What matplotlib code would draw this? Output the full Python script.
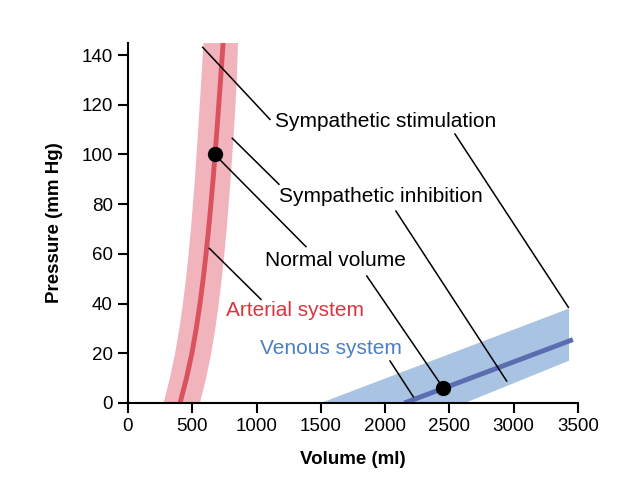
import matplotlib
matplotlib.use("Agg")
import matplotlib.pyplot as plt

plt.rcParams["font.family"] = ["Liberation Sans", "DejaVu Sans"]

# Arterial compliance curve (pressure in mm Hg, volume in ml)
art_p = [0, 10, 20, 30, 40, 50, 60, 70, 80, 90, 100, 110, 120, 130, 145]
art_mid = [405, 455, 497, 531, 560, 585, 607, 627, 645, 662, 677, 692, 706, 720, 740]
art_lo = [272, 321, 362, 395, 423, 447, 467, 485, 501, 516, 529, 542, 554, 566, 583]
art_hi = [555, 603, 643, 675, 702, 725, 745, 763, 779, 794, 807, 820, 832, 842, 852]

# Venous compliance
ven_vol = [2150, 3460]
ven_p = [0, 25.5]
ven_band_vol = [1500, 3430, 3430, 2620]
ven_band_p = [0, 38, 17, 0]

# Normal volume points
dots_vol = [677, 2450]
dots_p = [100, 6]

# Labels and their leader lines
labels = ["Sympathetic stimulation", "Sympathetic inhibition", "Normal volume",
          "Arterial system", "Venous system"]
label_xy = [(2007, 113.2), (1968, 83.0), (1614, 57.5), (1299, 37.4), (1575, 22.0)]
label_colors = ["black", "black", "black", "#d9363e", "#4c7ec2"]
leaders = [
    [(581, 143.1), (1104, 114.1)], [(2543, 108.2), (3425, 38.5)],
    [(811, 106.5), (1174, 88.0)], [(2084, 77.2), (2945, 8.85)],
    [(716, 97.8), (1384, 62.9)], [(1857, 51.1), (2427, 7.9)],
    [(633, 62.2), (1034, 41.7)],
    [(2038, 16.9), (2219, 2.5)],
]

xticks = [0, 500, 1000, 1500, 2000, 2500, 3000, 3500]
yticks = [0, 20, 40, 60, 80, 100, 120, 140]

fig = plt.figure(figsize=(6.28, 4.98), dpi=100)
ax = fig.add_axes([0.2038, 0.1908, 0.7166, 0.7237])

ax.fill_betweenx(art_p, art_lo, art_hi, color="#f1b3bc", lw=0)
ax.plot(art_mid, art_p, color="#d9525e", lw=3.5, solid_capstyle="butt")

ax.fill(ven_band_vol, ven_band_p, color="#a9c3e3", lw=0)
ax.plot(ven_vol, ven_p, color="#5a6db0", lw=3.5, solid_capstyle="butt")

for seg in leaders:
    ax.plot([seg[0][0], seg[1][0]], [seg[0][1], seg[1][1]], color="black", lw=1.1)

ax.plot(dots_vol, dots_p, "o", color="black", ms=10, zorder=5)

for txt, (x, y), c in zip(labels, label_xy, label_colors):
    ax.text(x, y, txt, color=c, fontsize=15, ha="center", va="center")

ax.set_xlim(0, 3500)
ax.set_ylim(0, 145)
ax.set_xticks(xticks)
ax.set_yticks(yticks)
ax.tick_params(labelsize=13.5, length=7.5, width=1.5, direction="out")
for s in ["top", "right"]:
    ax.spines[s].set_visible(False)
for s in ["left", "bottom"]:
    ax.spines[s].set_linewidth(1.5)

ax.set_xlabel("Volume (ml)", fontsize=13.5, fontweight="bold", labelpad=11)
ax.set_ylabel("Pressure (mm Hg)", fontsize=13.5, fontweight="bold", labelpad=13)

fig.savefig("out.png", dpi=100)
